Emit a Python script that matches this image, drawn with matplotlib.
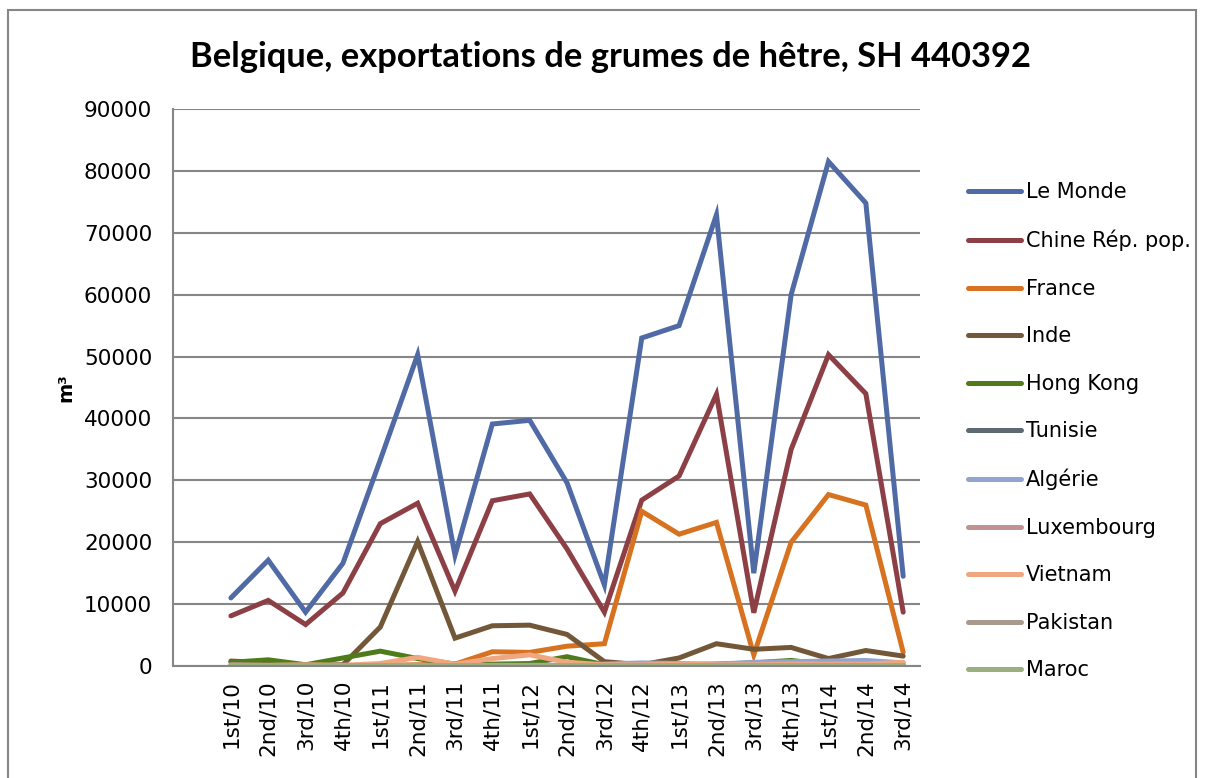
import numpy as np
import matplotlib.pyplot as plt
from matplotlib.patches import Rectangle

quarters = ['1st/10', '2nd/10', '3rd/10', '4th/10', '1st/11', '2nd/11', '3rd/11', '4th/11',
            '1st/12', '2nd/12', '3rd/12', '4th/12', '1st/13', '2nd/13', '3rd/13', '4th/13',
            '1st/14', '2nd/14', '3rd/14']

le_monde = [11000, 17100, 8700, 16600, 33300, 50300, 17900, 39100, 39700, 29600,
            13100, 53000, 55000, 72900, 15000, 60000, 81500, 74800, 14500]
chine = [8100, 10600, 6700, 11800, 23000, 26300, 12100, 26700, 27800, 18900,
         8700, 26800, 30700, 43900, 8600, 35000, 50300, 44000, 8700]
france = [100, 100, 100, 100, 100, 200, 300, 2300, 2200, 3200,
          3600, 25000, 21300, 23200, 1800, 20000, 27700, 26000, 2200]
inde = [800, 500, 100, 200, 6300, 20100, 4500, 6500, 6600, 5100,
        700, 200, 1300, 3600, 2700, 3000, 1200, 2500, 1600]
hong_kong = [600, 1000, 200, 1300, 2400, 1200, 300, 300, 400, 1500,
             200, 100, 200, 300, 500, 900, 200, 200, 100]
tunisie = [0, 0, 0, 0, 0, 0, 0, 0, 0, 0, 0, 0, 0, 0, 0, 0, 0, 0, 0]
algerie = [0, 0, 0, 0, 0, 0, 0, 0, 100, 100, 300, 500, 400, 300, 600, 700, 800, 900, 500]
luxembourg = [200, 100, 100, 100, 100, 100, 100, 100, 100, 100,
              100, 100, 100, 100, 100, 100, 100, 100, 100]
vietnam = [100, 100, 200, 100, 400, 1400, 300, 1200, 1800, 600,
           200, 200, 300, 200, 200, 300, 300, 300, 600]
pakistan = [100, 100, 100, 100, 100, 100, 100, 100, 100, 100,
            100, 100, 100, 100, 100, 100, 100, 100, 100]
maroc = [200, 200, 200, 200, 200, 200, 200, 200, 200, 200,
         200, 200, 200, 200, 200, 200, 200, 200, 200]

series = [
    ('Le Monde', le_monde, '#4F6AA5'),
    ('Chine Rép. pop.', chine, '#8C4046'),
    ('France', france, '#D77220'),
    ('Inde', inde, '#725838'),
    ('Hong Kong', hong_kong, '#4E7C1B'),
    ('Tunisie', tunisie, '#5E6A72'),
    ('Algérie', algerie, '#95A4CF'),
    ('Luxembourg', luxembourg, '#BF9294'),
    ('Vietnam', vietnam, '#F0A67F'),
    ('Pakistan', pakistan, '#A89A8D'),
    ('Maroc', maroc, '#9CAF80'),
]

fig = plt.figure(figsize=(12.06, 7.78), dpi=100)
ax = fig.add_axes([173 / 1206, 1 - 666 / 778, (920 - 173) / 1206, (666 - 109) / 778])

x = np.arange(len(quarters))
for name, vals, col in series:
    ax.plot(x, vals, color=col, lw=3.6, label=name, solid_joinstyle='miter',
            solid_capstyle='round')

ax.set_xlim(-1.55, 18.45)
ax.set_ylim(0, 90000)
ax.set_yticks(np.arange(0, 90001, 10000))
ax.set_xticks(x)
ax.set_xticklabels(quarters, rotation=90, fontsize=15.5)
ax.tick_params(axis='y', labelsize=15.5, length=0, pad=15)
ax.tick_params(axis='x', length=0, pad=10)
ax.grid(axis='y', color='#868686', lw=1.5)
ax.set_axisbelow(True)
for s in ['top', 'right']:
    ax.spines[s].set_visible(False)
for s in ['left', 'bottom']:
    ax.spines[s].set_color('#868686')
    ax.spines[s].set_linewidth(1.5)

ax.set_ylabel('m³', fontsize=14, fontweight='bold', labelpad=6)

fig.text(611 / 1206, 1 - 57 / 778, 'Belgique, exportations de grumes de hêtre, SH 440392',
         ha='center', va='center', fontsize=24.8, fontweight='bold', family='Lato')

leg = ax.legend(loc='upper left', bbox_to_anchor=(958 / 1206, 1 - 172 / 778),
                bbox_transform=fig.transFigure, frameon=False, fontsize=15,
                handlelength=2.5, handletextpad=0.25, labelspacing=1.32, borderpad=0)

fig.patches.append(Rectangle((8 / 1206, -0.01), (1196 - 8) / 1206, 1 - 10 / 778 + 0.01,
                             transform=fig.transFigure, fill=False,
                             edgecolor='#868686', lw=1.5))

plt.savefig('out.png', dpi=100)
